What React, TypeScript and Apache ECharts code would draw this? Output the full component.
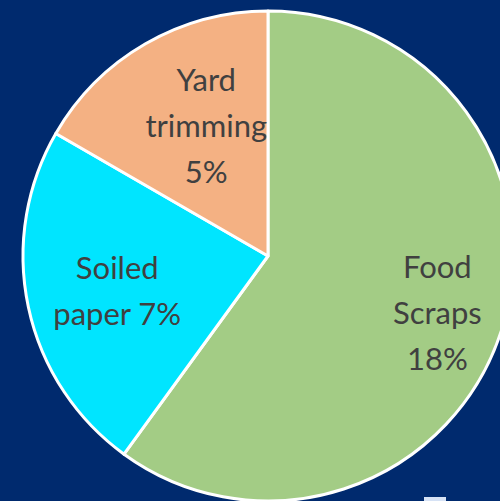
import React, { useEffect, useRef } from "react";
import * as echarts from "echarts";

const categories = ["Food Scraps", "Soiled paper", "Yard trimming"];
const values = [18, 7, 5];
const labelTexts = ["Food\nScraps\n18%", "Soiled\npaper 7%", "Yard\ntrimming\n5%"];
const colors = ["#a3cc85", "#00e5ff", "#f4b183"];
const labelOffsets = [[50, 17], [-28, 8], [1, -22]];

export default function App() {
  const ref = useRef<HTMLDivElement>(null);
  useEffect(() => {
    document.body.style.margin = "0";
    const chart = echarts.init(ref.current!, null, { renderer: "svg" });
    chart.setOption({
      animation: false,
      backgroundColor: "#002a6e",
      graphic: [
        { type: "rect", shape: { x: 424, y: 497, width: 22, height: 6 }, style: { fill: "#d6e2f5" } },
      ],
      series: [
        {
          type: "pie",
          center: [268, 256],
          radius: [0, 245],
          startAngle: 90,
          clockwise: true,
          silent: true,
          itemStyle: { borderColor: "#ffffff", borderWidth: 3 },
          label: {
            show: true,
            position: "inside",
            color: "#404040",
            fontFamily: "Lato",
            fontSize: 31,
            lineHeight: 46,
            align: "center",
            formatter: (p: any) => labelTexts[p.dataIndex],
          },
          labelLine: { show: false },
          data: categories.map((name, i) => ({
            name,
            value: values[i],
            itemStyle: { color: colors[i] },
            label: { offset: labelOffsets[i] },
          })),
        },
      ],
    });
    return () => chart.dispose();
  }, []);
  return <div ref={ref} style={{ width: 500, height: 501, position: "fixed", left: 0, top: 0 }} />;
}
